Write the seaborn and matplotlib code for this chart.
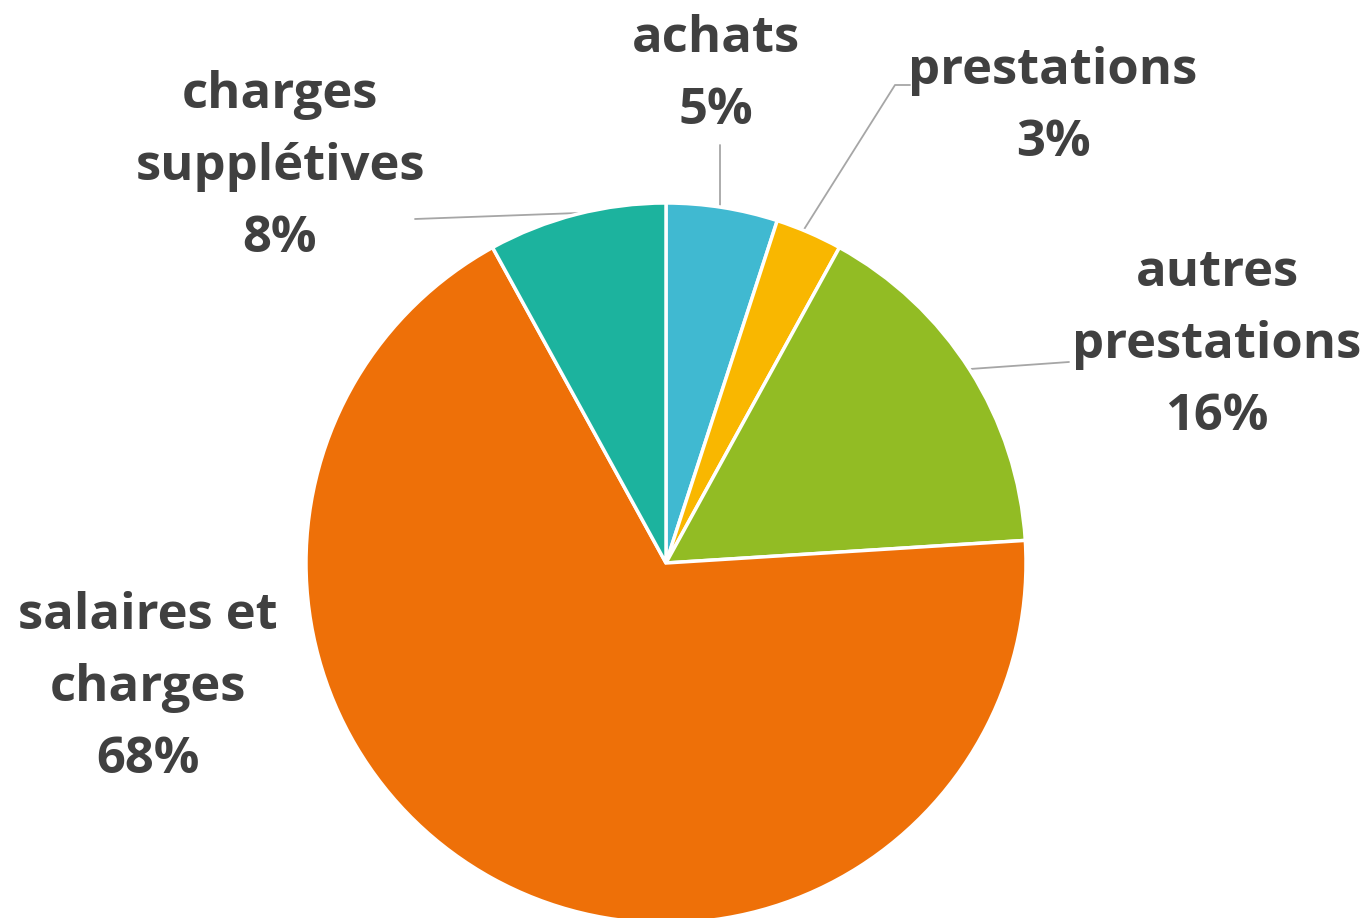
import matplotlib
matplotlib.use("Agg")
import matplotlib.pyplot as plt
import seaborn as sns

# Data
categories = ["achats", "prestations", "autres\nprestations", "salaires et\ncharges", "charges\nsupplétives"]
shares = [5, 3, 16, 68, 8]
pct_labels = ["5%", "3%", "16%", "68%", "8%"]

sns.set_theme(style="white")
plt.rcParams['font.family'] = ['Open Sans', 'DejaVu Sans']

colors = sns.color_palette(["#40B9D1", "#F9B700", "#92BC24", "#EE7008", "#1CB39E"])
TEXT = "#404040"
LINE = "#A6A6A6"

W, H = 1368, 918
fig = plt.figure(figsize=(W / 100, H / 100), dpi=100)
ax = fig.add_axes([0, 0, 1, 1])

# pixel coordinates, y measured from bottom
cx, cy, r = 666, H - 563, 360
wedges, _ = ax.pie(shares, colors=colors, startangle=90, counterclock=False,
                   center=(cx, cy), radius=r,
                   wedgeprops=dict(edgecolor="white", linewidth=2.5))
ax.set_xlim(0, W)
ax.set_ylim(0, H)
ax.set_aspect("equal")
ax.axis("off")

# label positions (pixel, from top) and leader lines
label_pos = [(716, 75), (1053, 107), (1217, 345), (148, 688), (280, 167)]
leaders = [
    [(720, 145), (720, 205)],
    [(910, 85), (895, 85), (803, 231)],
    [(1069, 362), (970, 369)],
    None,
    [(415, 219), (578, 213)],
]

fs = 36.5
for name, pct, (x, y), ld in zip(categories, pct_labels, label_pos, leaders):
    ax.text(x, H - y, name + "\n" + pct, ha="center", va="center", fontsize=fs,
            fontweight="bold", color=TEXT, linespacing=1.57)
    if ld:
        xs = [p[0] for p in ld]
        ys = [H - p[1] for p in ld]
        ax.plot(xs, ys, color=LINE, linewidth=1.3, zorder=0.5)

fig.savefig("out.png", dpi=100, facecolor="white")
